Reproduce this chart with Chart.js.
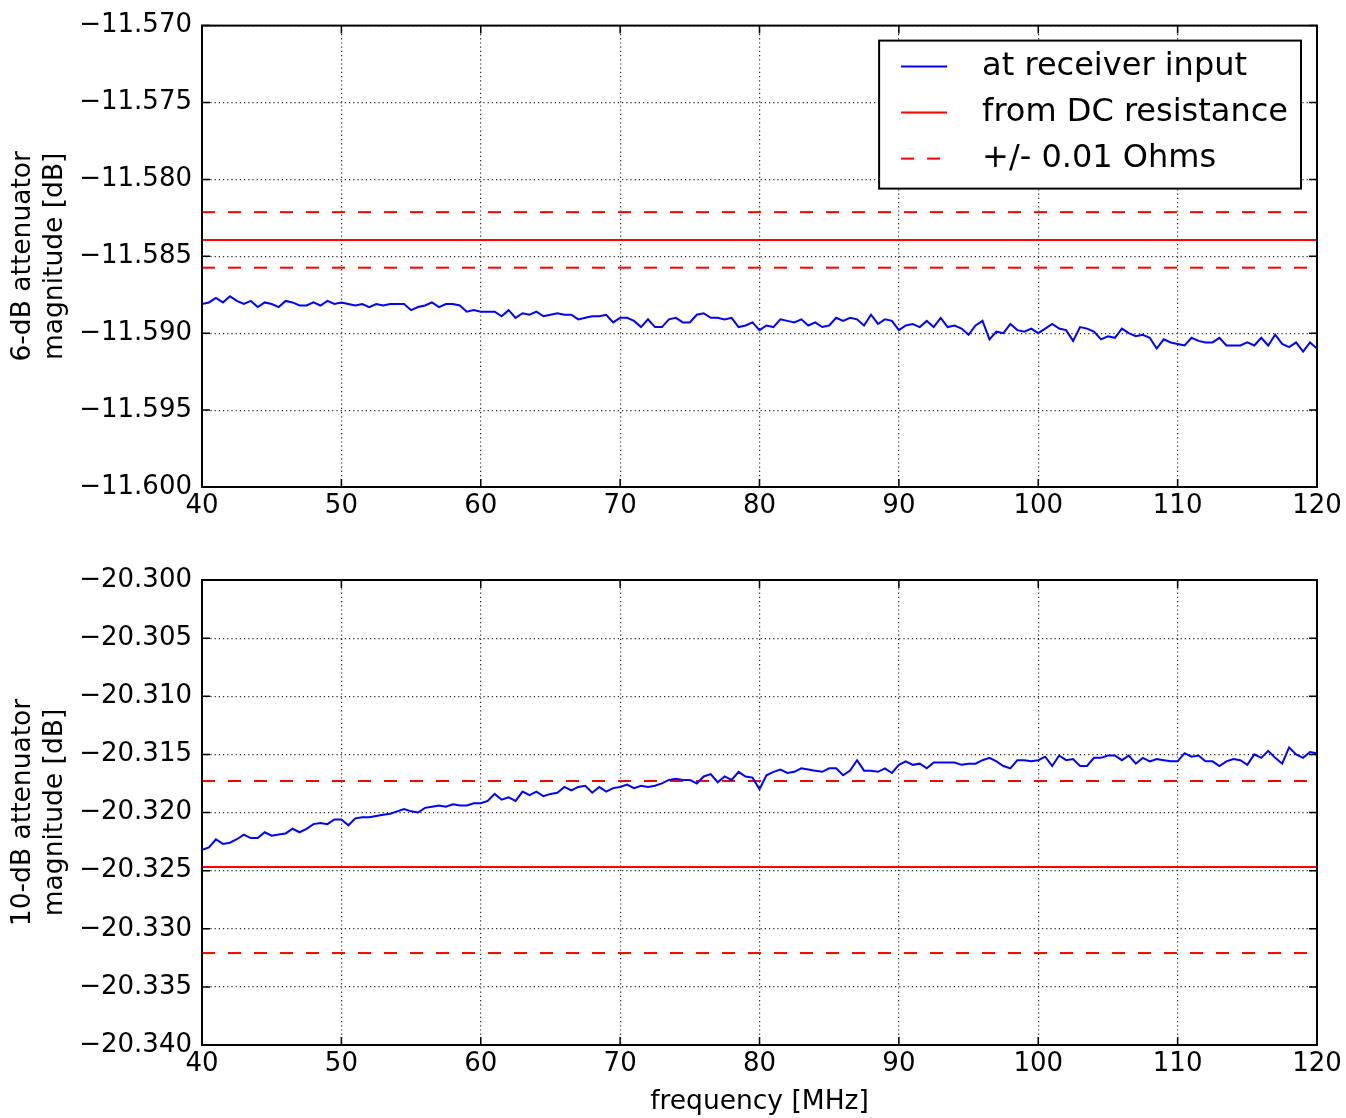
<!DOCTYPE html>
<html>
<head>
<meta charset="utf-8">
<title>Attenuator magnitude vs frequency</title>
<script src="https://cdn.jsdelivr.net/npm/chart.js@4.4.1/dist/chart.umd.min.js"></script>
<style>
  html, body { margin: 0; padding: 0; background: #fff; }
  #wrap { position: relative; width: 1346px; height: 1118px; }
  canvas { position: absolute; left: 0; }
  #chart6 { top: 0; }
  #chart10 { top: 540px; }
</style>
</head>
<body>
<div id="wrap">
  <canvas id="chart6" width="1346" height="540"></canvas>
  <canvas id="chart10" width="1346" height="578"></canvas>
</div>
<script>
// frequency points [MHz]
const freq = [
  40, 40.5, 41, 41.5, 42, 42.5, 43, 43.5, 44, 44.5, 45, 45.5, 46, 46.5, 47, 47.5, 48, 48.5, 49, 49.5,
  50, 50.5, 51, 51.5, 52, 52.5, 53, 53.5, 54, 54.5, 55, 55.5, 56, 56.5, 57, 57.5, 58, 58.5, 59, 59.5,
  60, 60.5, 61, 61.5, 62, 62.5, 63, 63.5, 64, 64.5, 65, 65.5, 66, 66.5, 67, 67.5, 68, 68.5, 69, 69.5,
  70, 70.5, 71, 71.5, 72, 72.5, 73, 73.5, 74, 74.5, 75, 75.5, 76, 76.5, 77, 77.5, 78, 78.5, 79, 79.5,
  80, 80.5, 81, 81.5, 82, 82.5, 83, 83.5, 84, 84.5, 85, 85.5, 86, 86.5, 87, 87.5, 88, 88.5, 89, 89.5,
  90, 90.5, 91, 91.5, 92, 92.5, 93, 93.5, 94, 94.5, 95, 95.5, 96, 96.5, 97, 97.5, 98, 98.5, 99, 99.5,
  100, 100.5, 101, 101.5, 102, 102.5, 103, 103.5, 104, 104.5, 105, 105.5, 106, 106.5, 107, 107.5, 108, 108.5, 109, 109.5,
  110, 110.5, 111, 111.5, 112, 112.5, 113, 113.5, 114, 114.5, 115, 115.5, 116, 116.5, 117, 117.5, 118, 118.5, 119, 119.5,
  120
];

// 6-dB attenuator, measured at receiver input [dB]
const mag6 = [
  -11.5881, -11.5880, -11.5877, -11.5880, -11.5876, -11.5879, -11.5881, -11.5879, -11.5883, -11.5880,
  -11.5881, -11.5883, -11.5879, -11.5880, -11.5882, -11.5882, -11.5880, -11.5882, -11.5879, -11.5881,
  -11.5880, -11.5881, -11.5882, -11.5881, -11.5883, -11.5881, -11.5882, -11.5881, -11.5881, -11.5881,
  -11.5885, -11.5883, -11.5882, -11.5880, -11.5883, -11.5881, -11.5881, -11.5882, -11.5886, -11.5885,
  -11.5886, -11.5886, -11.5886, -11.5889, -11.5885, -11.5890, -11.5887, -11.5888, -11.5886, -11.5889,
  -11.5888, -11.5887, -11.5888, -11.5888, -11.5891, -11.5890, -11.5889, -11.5889, -11.5888, -11.5893,
  -11.5890, -11.5890, -11.5892, -11.5896, -11.5891, -11.5896, -11.5896, -11.5891, -11.5890, -11.5893,
  -11.5893, -11.5888, -11.5887, -11.5890, -11.5890, -11.5891, -11.5890, -11.5896, -11.5895, -11.5893,
  -11.5898, -11.5895, -11.5896, -11.5891, -11.5892, -11.5893, -11.5891, -11.5895, -11.5893, -11.5896,
  -11.5895, -11.5890, -11.5892, -11.5890, -11.5891, -11.5895, -11.5888, -11.5894, -11.5891, -11.5892,
  -11.5898, -11.5895, -11.5894, -11.5896, -11.5892, -11.5896, -11.5890, -11.5896, -11.5895, -11.5897,
  -11.5901, -11.5895, -11.5892, -11.5904, -11.5899, -11.5900, -11.5894, -11.5898, -11.5899, -11.5897,
  -11.5900, -11.5897, -11.5894, -11.5897, -11.5898, -11.5905, -11.5896, -11.5897, -11.5899, -11.5904,
  -11.5902, -11.5903, -11.5897, -11.5900, -11.5902, -11.5901, -11.5903, -11.5910, -11.5904, -11.5906,
  -11.5907, -11.5908, -11.5903, -11.5905, -11.5906, -11.5906, -11.5903, -11.5908, -11.5908, -11.5908,
  -11.5906, -11.5908, -11.5903, -11.5908, -11.5901, -11.5907, -11.5909, -11.5906, -11.5912, -11.5906,
  -11.5910
];

// 10-dB attenuator, measured at receiver input [dB]
const mag10 = [
  -20.3232, -20.3230, -20.3223, -20.3227, -20.3226, -20.3223, -20.3219, -20.3222, -20.3222, -20.3217,
  -20.3220, -20.3219, -20.3218, -20.3214, -20.3217, -20.3214, -20.3210, -20.3209, -20.3210, -20.3206,
  -20.3206, -20.3211, -20.3205, -20.3204, -20.3204, -20.3203, -20.3202, -20.3201, -20.3199, -20.3197,
  -20.3199, -20.3200, -20.3196, -20.3195, -20.3194, -20.3195, -20.3193, -20.3194, -20.3194, -20.3192,
  -20.3192, -20.3190, -20.3184, -20.3189, -20.3187, -20.3190, -20.3182, -20.3185, -20.3182, -20.3186,
  -20.3184, -20.3183, -20.3178, -20.3181, -20.3178, -20.3177, -20.3183, -20.3178, -20.3182, -20.3179,
  -20.3178, -20.3176, -20.3179, -20.3177, -20.3178, -20.3177, -20.3175, -20.3172, -20.3171, -20.3172,
  -20.3172, -20.3175, -20.3169, -20.3167, -20.3174, -20.3169, -20.3172, -20.3165, -20.3169, -20.3170,
  -20.3180, -20.3168, -20.3165, -20.3163, -20.3166, -20.3165, -20.3162, -20.3163, -20.3164, -20.3165,
  -20.3162, -20.3162, -20.3168, -20.3164, -20.3155, -20.3164, -20.3164, -20.3165, -20.3162, -20.3166,
  -20.3159, -20.3156, -20.3159, -20.3158, -20.3162, -20.3157, -20.3157, -20.3157, -20.3157, -20.3159,
  -20.3158, -20.3158, -20.3155, -20.3153, -20.3156, -20.3160, -20.3162, -20.3155, -20.3155, -20.3156,
  -20.3155, -20.3152, -20.3160, -20.3151, -20.3155, -20.3154, -20.3160, -20.3160, -20.3153, -20.3153,
  -20.3151, -20.3151, -20.3155, -20.3151, -20.3158, -20.3153, -20.3156, -20.3154, -20.3155, -20.3156,
  -20.3156, -20.3149, -20.3152, -20.3151, -20.3156, -20.3156, -20.3160, -20.3156, -20.3154, -20.3155,
  -20.3159, -20.3150, -20.3153, -20.3147, -20.3153, -20.3158, -20.3144, -20.3150, -20.3153, -20.3148,
  -20.3149
];

// expected levels from DC resistance, and the +/- 0.01 Ohm bounds
const dc6 = -11.58394;
const tol6 = [-11.58213, -11.58574];
const dc10 = -20.32469;
const tol10 = [-20.31729, -20.33209];

const xTicks = [40, 50, 60, 70, 80, 90, 100, 110, 120];
const yTicks6 = [-11.600, -11.595, -11.590, -11.585, -11.580, -11.575, -11.570];
const yTicks10 = [-20.340, -20.335, -20.330, -20.325, -20.320, -20.315, -20.310, -20.305, -20.300];

const seriesLabels = ['at receiver input', 'from DC resistance', '+/- 0.01 Ohms'];

const FONT = 'DejaVu Sans';
Chart.defaults.font.family = FONT;
Chart.defaults.color = '#000';

function flatLine(y) {
  return [{ x: xTicks[0], y: y }, { x: xTicks[xTicks.length - 1], y: y }];
}

function fmtTick(v) {
  const s = Math.abs(v).toFixed(3);
  return v < 0 ? '\u2212' + s : s;
}

// box around the plot plus inward tick marks on all four sides
const frameTicks = {
  id: 'frameTicks',
  afterDraw(chart) {
    const { ctx, chartArea: a, scales } = chart;
    const len = 8;
    ctx.save();
    ctx.strokeStyle = '#000';
    ctx.lineWidth = 1.5;
    ctx.beginPath();
    scales.x.ticks.forEach(t => {
      const px = scales.x.getPixelForValue(t.value);
      ctx.moveTo(px, a.bottom); ctx.lineTo(px, a.bottom - len);
      ctx.moveTo(px, a.top); ctx.lineTo(px, a.top + len);
    });
    scales.y.ticks.forEach(t => {
      const py = scales.y.getPixelForValue(t.value);
      ctx.moveTo(a.left, py); ctx.lineTo(a.left + len, py);
      ctx.moveTo(a.right, py); ctx.lineTo(a.right - len, py);
    });
    ctx.stroke();
    ctx.lineWidth = 2;
    ctx.strokeRect(a.left, a.top, a.right - a.left, a.bottom - a.top);
    ctx.restore();
  }
};

// framed legend in the upper right corner of the plot
const boxLegend = {
  id: 'boxLegend',
  afterDraw(chart, args, opts) {
    if (!opts.display) return;
    const { ctx, chartArea: a } = chart;
    const items = chart.data.datasets.filter(d => d.label);
    ctx.save();
    ctx.font = '32px "' + FONT + '"';
    const maxW = Math.max(...items.map(d => ctx.measureText(d.label).width));
    const w = 103 + maxW + 13;
    const h = 148;
    const right = a.right - 16;
    const left = right - w;
    const top = a.top + 15;
    ctx.fillStyle = '#fff';
    ctx.fillRect(left, top, w, h);
    ctx.strokeStyle = '#000';
    ctx.lineWidth = 2;
    ctx.strokeRect(left, top, w, h);
    items.forEach((d, i) => {
      const y = top + 26 + i * 46;
      ctx.beginPath();
      ctx.strokeStyle = d.borderColor;
      ctx.lineWidth = 2;
      ctx.setLineDash(d.borderDash || []);
      ctx.moveTo(left + 22, y);
      ctx.lineTo(left + 68, y);
      ctx.stroke();
      ctx.setLineDash([]);
      ctx.fillStyle = '#000';
      ctx.textBaseline = 'middle';
      ctx.textAlign = 'left';
      ctx.fillText(d.label, left + 103, y);
    });
    ctx.restore();
  }
};

function makeChart(id, mag, dc, tol, yTicks, yTitle, cfg) {
  return new Chart(document.getElementById(id), {
    type: 'line',
    data: {
      datasets: [
        {
          label: seriesLabels[0],
          data: freq.map((f, i) => ({ x: f, y: mag[i] })),
          borderColor: '#0000ff',
          borderWidth: 2
        },
        {
          label: seriesLabels[1],
          data: flatLine(dc),
          borderColor: '#ff0000',
          borderWidth: 2
        },
        {
          label: seriesLabels[2],
          data: flatLine(tol[0]),
          borderColor: '#ff0000',
          borderWidth: 2,
          borderDash: [13, 13]
        },
        {
          data: flatLine(tol[1]),
          borderColor: '#ff0000',
          borderWidth: 2,
          borderDash: [13, 13]
        }
      ]
    },
    options: {
      responsive: false,
      animation: false,
      layout: {
        autoPadding: false,
        padding: { top: cfg.padTop, right: 29, bottom: 0, left: 0 }
      },
      elements: {
        point: { radius: 0 },
        line: { tension: 0 }
      },
      plugins: {
        legend: { display: false },
        tooltip: { enabled: false },
        boxLegend: { display: cfg.legend }
      },
      scales: {
        x: {
          type: 'linear',
          min: 40,
          max: 120,
          afterBuildTicks: s => { s.ticks = xTicks.map(v => ({ value: v })); },
          afterFit: s => { s.height = cfg.xHeight; },
          ticks: {
            font: { size: 26 },
            padding: 4,
            maxRotation: 0,
            autoSkip: false,
            callback: v => String(v)
          },
          grid: { color: '#222', lineWidth: 1.2, drawTicks: false },
          border: { display: false, dash: [1.2, 3] },
          title: {
            display: !!cfg.xTitle,
            text: cfg.xTitle || '',
            font: { size: 26.5 },
            padding: { top: 0, bottom: 0 }
          }
        },
        y: {
          min: yTicks[0],
          max: yTicks[yTicks.length - 1],
          afterBuildTicks: s => { s.ticks = yTicks.map(v => ({ value: v })); },
          afterFit: s => { s.width = 202; },
          ticks: {
            font: { size: 26 },
            padding: 10,
            autoSkip: false,
            callback: v => fmtTick(v)
          },
          grid: { color: '#222', lineWidth: 1.2, drawTicks: false },
          border: { display: false, dash: [1.2, 3] },
          title: {
            display: true,
            text: yTitle,
            font: { size: 26.5 },
            padding: { top: 7, bottom: 0 }
          }
        }
      }
    },
    plugins: [frameTicks, boxLegend]
  });
}

makeChart('chart6', mag6, dc6, tol6, yTicks6,
  ['6-dB attenuator', 'magnitude [dB]'],
  { padTop: 22, xHeight: 53, legend: true });

makeChart('chart10', mag10, dc10, tol10, yTicks10,
  ['10-dB attenuator', 'magnitude [dB]'],
  { padTop: 40, xHeight: 73, legend: false, xTitle: 'frequency [MHz]' });
</script>
</body>
</html>
